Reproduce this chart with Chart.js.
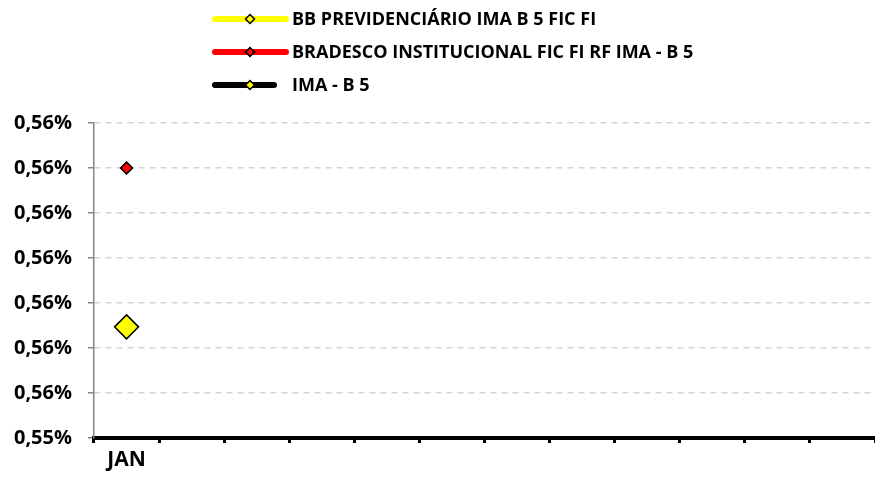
<!DOCTYPE html>
<html>
<head>
<meta charset="utf-8">
<script src="https://cdn.jsdelivr.net/npm/chart.js@4.4.1/dist/chart.umd.min.js"></script>
<style>
  html, body { margin: 0; padding: 0; background: #fff; overflow: hidden; }
  #wrap { width: 875px; height: 484px; }
  canvas { display: block; }
</style>
</head>
<body>
<div id="wrap"><canvas id="chart" width="875" height="484"></canvas></div>
<script>
// data block
const months = ['JAN', 'FEV', 'MAR', 'ABR', 'MAI', 'JUN', 'JUL', 'AGO', 'SET', 'OUT', 'NOV', 'DEZ'];
const shownMonths = ['JAN'];
const seriesNames = ['BB PREVIDENCIÁRIO IMA B 5 FIC FI', 'BRADESCO INSTITUCIONAL FIC FI RF IMA - B 5', 'IMA - B 5'];
const bbValues = [0.55697, null, null, null, null, null, null, null, null, null, null, null];
const bradescoValues = [0.5605, null, null, null, null, null, null, null, null, null, null, null];
const imaValues = [null, null, null, null, null, null, null, null, null, null, null, null];
const yMin = 0.5545;
const yMax = 0.5615;
const yStep = 0.001;

const FONT = '"Open Sans", "Liberation Sans", sans-serif';

// legend with a thick line + diamond, drawn by hand
const lineLegend = {
    id: 'lineLegend',
    afterDraw(chart) {
        const ctx = chart.ctx;
        ctx.save();
        chart.data.datasets.forEach((ds, i) => {
            const y = 19 + i * 33;
            const x0 = 215;
            const x1 = i === 2 ? 274 : 286;
            ctx.lineCap = 'round';
            ctx.lineWidth = 6;
            ctx.strokeStyle = ds.borderColor;
            ctx.beginPath();
            ctx.moveTo(x0, y);
            ctx.lineTo(x1, y);
            ctx.stroke();
            // marker
            const cx = 250, r = 4.5;
            ctx.beginPath();
            ctx.moveTo(cx, y - r);
            ctx.lineTo(cx + r, y);
            ctx.lineTo(cx, y + r);
            ctx.lineTo(cx - r, y);
            ctx.closePath();
            ctx.fillStyle = ds.legendMarker;
            ctx.fill();
            ctx.lineWidth = 1.5;
            ctx.strokeStyle = '#000';
            ctx.stroke();
            // text
            ctx.fillStyle = '#000';
            ctx.font = 'bold 18px ' + FONT;
            ctx.textBaseline = 'middle';
            ctx.textAlign = 'left';
            ctx.fillText(ds.label, 292, y + 1);
        });
        ctx.restore();
    }
};

const data = {
    labels: months,
    datasets: [{
        label: seriesNames[0],
        data: bbValues,
        borderColor: '#ffff00',
        backgroundColor: '#ffff00',
        borderWidth: 5,
        pointStyle: 'rectRot',
        pointRadius: 12,
        pointBackgroundColor: '#ffff00',
        pointBorderColor: '#000',
        pointBorderWidth: 1.5,
        legendMarker: '#ffff00'
    }, {
        label: seriesNames[1],
        data: bradescoValues,
        borderColor: '#ff0000',
        backgroundColor: '#ff0000',
        borderWidth: 5,
        pointStyle: 'rectRot',
        pointRadius: 6,
        pointBackgroundColor: '#ff0000',
        pointBorderColor: '#000',
        pointBorderWidth: 1.5,
        legendMarker: '#ff0000'
    }, {
        label: seriesNames[2],
        data: imaValues,
        borderColor: '#000000',
        backgroundColor: '#000000',
        borderWidth: 5,
        pointStyle: 'rectRot',
        pointRadius: 6,
        pointBackgroundColor: '#ffff00',
        pointBorderColor: '#000',
        pointBorderWidth: 1.5,
        legendMarker: '#ffff00'
    }]
};

const config = {
    type: 'line',
    data,
    options: {
        responsive: false,
        animation: false,
        layout: {
            autoPadding: false,
            padding: { top: 123, right: 0, left: 0, bottom: 0 }
        },
        plugins: {
            legend: { display: false },
            tooltip: { enabled: false }
        },
        scales: {
            x: {
                offset: true,
                grid: {
                    display: true,
                    offset: true,
                    drawOnChartArea: false,
                    drawTicks: true,
                    tickLength: 5,
                    tickWidth: 3,
                    tickColor: '#000'
                },
                border: { display: true, color: '#000', width: 4 },
                ticks: {
                    color: '#000',
                    padding: 4,
                    maxRotation: 0,
                    autoSkip: false,
                    font: { family: FONT, size: 21, weight: 'bold' },
                    callback: function (value) {
                        const m = this.getLabelForValue(value);
                        return shownMonths.includes(m) ? m : '';
                    }
                },
                afterFit(scale) {
                    scale.height = 46;
                    scale.paddingLeft = 0;
                    scale.paddingRight = 0;
                }
            },
            y: {
                min: yMin,
                max: yMax,
                grid: {
                    color: '#d4d4d4',
                    lineWidth: 1.5,
                    tickLength: 6,
                    tickColor: '#868686',
                    tickBorderDash: []
                },
                border: { display: true, color: '#868686', width: 1.5, dash: [6, 5] },
                ticks: {
                    stepSize: yStep,
                    color: '#000',
                    padding: 16,
                    font: { family: FONT, size: 20, weight: 'bold' },
                    callback: (v) => v.toFixed(2).replace('.', ',') + '%'
                },
                afterFit(scale) { scale.width = 94; }
            }
        }
    },
    plugins: [lineLegend]
};

const myChart = new Chart(document.getElementById('chart'), config);
</script>
</body>
</html>
